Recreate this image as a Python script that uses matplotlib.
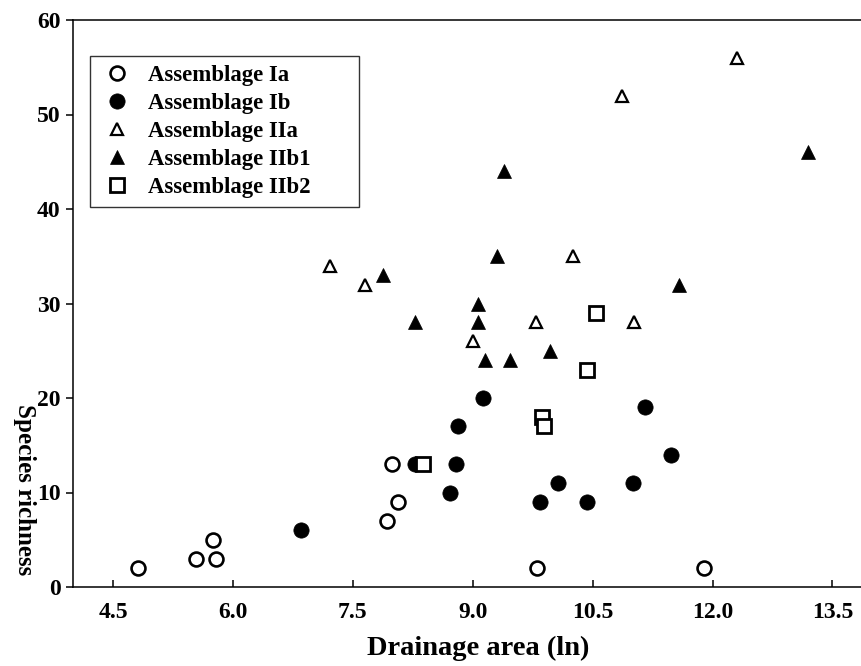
import matplotlib
matplotlib.use("Agg")
import matplotlib.pyplot as plt

# Drainage area (ln) and species richness per assemblage
ia_x = [4.81, 5.54, 5.79, 5.75, 7.93, 8.07, 7.99, 9.80, 11.89]
ia_y = [2, 3, 3, 5, 7, 9, 13, 2, 2]

ib_x = [6.85, 8.28, 8.79, 8.71, 8.82, 9.13, 9.84, 10.07, 10.43, 11.01, 11.15, 11.48]
ib_y = [6, 13, 13, 10, 17, 20, 9, 11, 9, 11, 19, 14]

iia_x = [7.22, 7.65, 9.00, 9.79, 10.25, 11.02, 10.87, 12.31]
iia_y = [34, 32, 26, 28, 35, 28, 52, 56]

iib1_x = [7.88, 8.28, 9.07, 9.07, 9.16, 9.47, 9.30, 9.39, 9.97, 11.58, 13.20]
iib1_y = [33, 28, 30, 28, 24, 24, 35, 44, 25, 32, 46]

iib2_x = [8.38, 9.87, 9.89, 10.43, 10.54]
iib2_y = [13, 18, 17, 23, 29]

x_ticks = [4.5, 6.0, 7.5, 9.0, 10.5, 12.0, 13.5]
y_ticks = [0, 10, 20, 30, 40, 50, 60]

plt.rcParams["font.family"] = ["Liberation Serif", "DejaVu Serif"]
plt.rcParams["font.weight"] = "bold"

fig = plt.figure(figsize=(8.62, 6.66), dpi=100)
ax = fig.add_axes([73 / 862, 1 - 587 / 666, 1 - 73 / 862, (587 - 20) / 666])

ax.plot(ia_x, ia_y, "o", ms=10, mfc="white", mec="black", mew=1.9,
        label="Assemblage Ia")
ax.plot(ib_x, ib_y, "o", ms=11, mfc="black", mec="black", mew=0.5,
        label="Assemblage Ib")
ax.plot(iia_x, iia_y, "^", ms=9, mfc="white", mec="black", mew=1.6,
        label="Assemblage IIa")
ax.plot(iib1_x, iib1_y, "^", ms=10.5, mfc="black", mec="black", mew=0.5,
        label="Assemblage IIb1")
ax.plot(iib2_x, iib2_y, "s", ms=10, mfc="white", mec="black", mew=2.0,
        label="Assemblage IIb2")

ax.set_xlim(4.0, 13.87)
ax.set_ylim(0, 60)
ax.set_xticks(x_ticks)
ax.set_xticklabels([f"{t:.1f}" for t in x_ticks])
ax.set_yticks(y_ticks)

ax.spines["right"].set_visible(False)
for side in ["left", "bottom", "top"]:
    ax.spines[side].set_linewidth(1.1)
ax.tick_params(axis="x", direction="in", length=5, width=1.1, pad=11,
               labelsize=17)
ax.tick_params(axis="y", direction="out", length=5, width=1.1, pad=4,
               labelsize=17)
for lab in ax.get_xticklabels() + ax.get_yticklabels():
    lab.set_fontweight("bold")

ax.set_xlabel("Drainage area (ln)", fontsize=20.5, fontweight="bold",
              labelpad=9)
ax.xaxis.label.set_x((478 - 73) / (862 - 73))
fig.text(24 / 862, 1 - 490 / 666, "Species richness", fontsize=18,
         fontweight="bold", rotation=-90, ha="center", va="center")

# legend box stretched to a fixed width, entries stay left-aligned
leg = ax.legend(loc="upper left",
                bbox_to_anchor=(90 / 862, 1 - 56 / 666, (359 - 90) / 862, 0),
                bbox_transform=fig.transFigure, borderaxespad=0,
                mode="expand", fancybox=False, frameon=True,
                edgecolor="black", prop={"size": 16.4, "weight": "bold"},
                handletextpad=0.55, labelspacing=0.31, borderpad=0.4,
                handlelength=1.6, numpoints=1)
leg.get_frame().set_linewidth(1.0)

fig.savefig("out.png", dpi=100)
